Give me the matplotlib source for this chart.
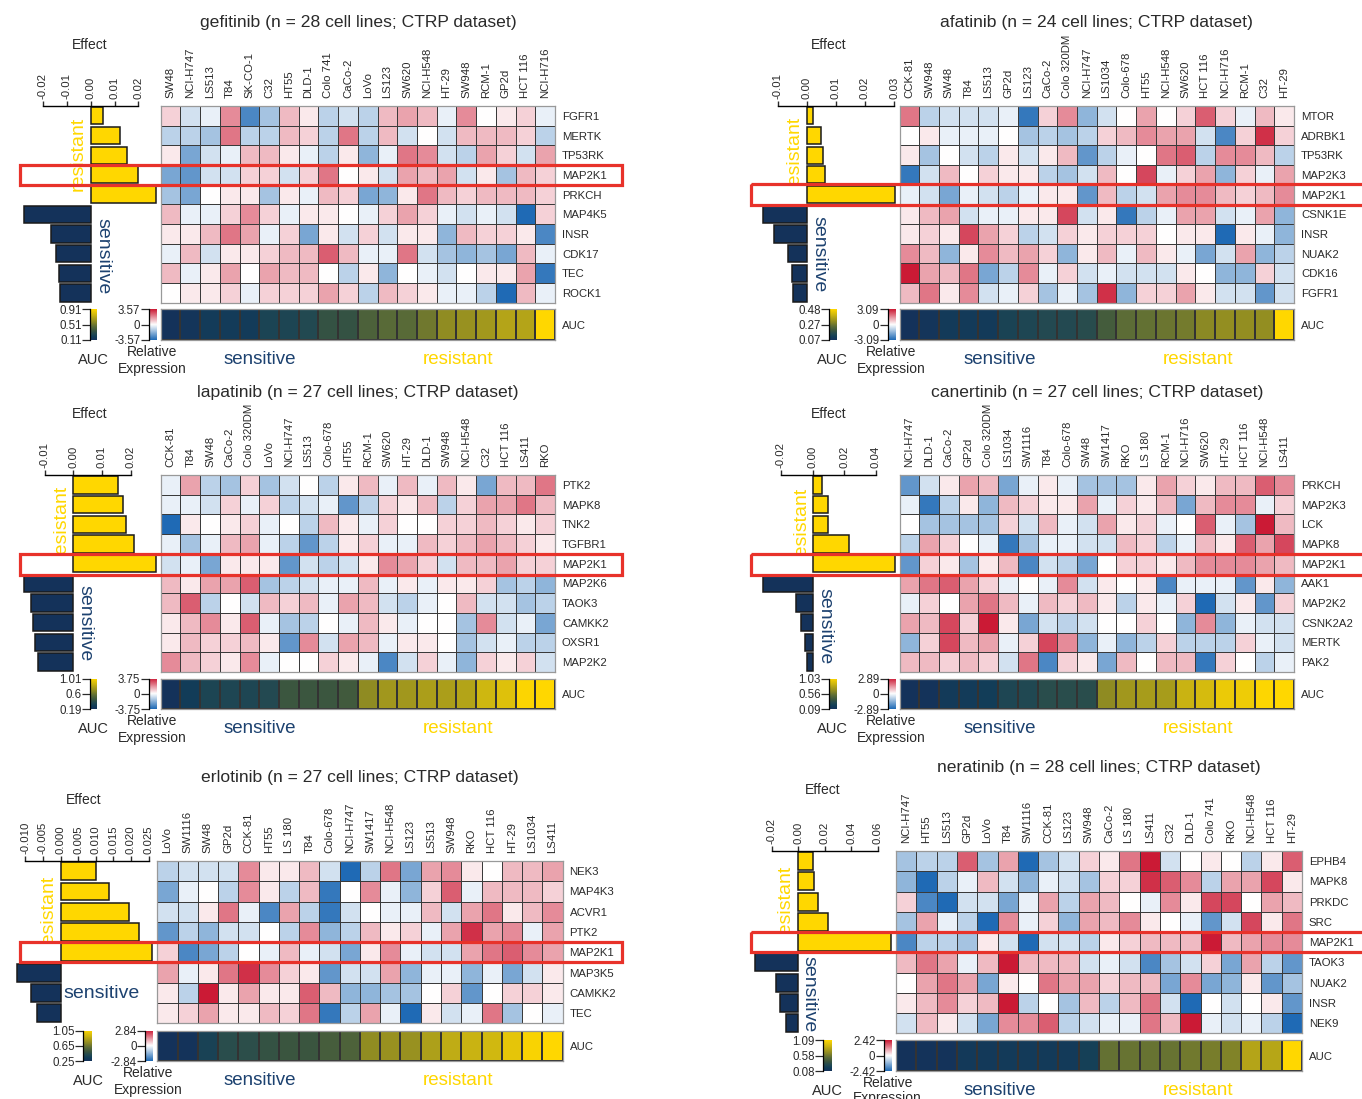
import numpy as np
import matplotlib
matplotlib.use('Agg')
import matplotlib.pyplot as plt
from matplotlib.colors import LinearSegmentedColormap
from matplotlib.patches import Rectangle

plt.rcParams['font.family'] = ['Liberation Sans', 'DejaVu Sans']

W, H = 1362, 1099
NAVY = '#14325A'
TEXT_NAVY = '#1D4270'
GOLD = '#FFD700'
RED = '#E8322A'
INK = '#2A2A2A'

gefitinib_lines = ['SW48', 'NCI-H747', 'LS513', 'T84', 'SK-CO-1', 'C32', 'HT55', 'DLD-1', 'Colo 741', 'CaCo-2',
                   'LoVo', 'LS123', 'SW620', 'NCI-H548', 'HT-29', 'SW948', 'RCM-1', 'GP2d', 'HCT 116', 'NCI-H716']
gefitinib_genes = ['FGFR1', 'MERTK', 'TP53RK', 'MAP2K1', 'PRKCH', 'MAP4K5', 'INSR', 'CDK17', 'TEC', 'ROCK1']
gefitinib_effect = [0.0053, 0.0122, 0.0152, 0.0197, 0.0272, -0.028, -0.0168, -0.0144, -0.0133, -0.0127]
gefitinib_auc = [0.11, 0.13, 0.17, 0.17, 0.17, 0.23, 0.24, 0.26, 0.33, 0.33,
                 0.41, 0.45, 0.45, 0.51, 0.59, 0.61, 0.64, 0.69, 0.69, 0.91]
gefitinib_expr = [
    [2, -2, -1, 5, -8, -4, 3, 1, -3, -2, -3, 3, 4, 3, -1, 5, 0, 1, 2, -1],
    [-3, -3, -4, 6, -3, -3, 3, 2, -3, 6, -3, 3, -2, 0, -2, 3, 3, 3, 2, -3],
    [1, -6, -2, -1, 3, 3, 1, -1, -3, 1, -5, -1, 6, 5, -2, -3, 4, 2, -2, 4],
    [-6, -7, -2, -2, 2, 2, -2, 2, 6, 0, 1, -2, 4, 3, 4, -2, 1, -4, 3, 2],
    [-4, -6, 0, 1, 1, -4, 1, -1, 3, 2, -6, -5, 1, 6, 3, 2, 3, 3, 3, 2],
    [3, -1, -1, 2, 5, 2, -1, 1, 1, 0, -1, 2, 4, 2, -1, -2, -1, -2, -10, 2],
    [1, 1, 3, 6, 4, -1, 2, -6, 1, -2, 2, -2, 1, 1, -5, 3, 2, 2, 1, -8],
    [-1, 3, -2, 1, 1, 2, 3, 3, 7, 3, -1, -1, 6, -2, -4, -5, -4, -6, 3, -1],
    [3, -1, 1, 4, 0, 4, 3, 3, 0, -3, 1, -5, 0, -1, -2, 0, 1, 1, 4, -9],
    [0, 1, 1, 2, -1, 2, 2, 2, 4, 2, -3, 3, 2, 1, -1, -1, -3, -10, 3, -1],
]

afatinib_lines = ['CCK-81', 'SW948', 'SW48', 'T84', 'LS513', 'GP2d', 'LS123', 'CaCo-2', 'Colo 320DM', 'NCI-H747',
                  'LS1034', 'Colo-678', 'HT55', 'NCI-H548', 'SW620', 'HCT 116', 'NCI-H716', 'RCM-1', 'C32', 'HT-29']
afatinib_genes = ['MTOR', 'ADRBK1', 'TP53RK', 'MAP2K3', 'MAP2K1', 'CSNK1E', 'INSR', 'NUAK2', 'CDK16', 'FGFR1']
afatinib_effect = [0.0023, 0.0048, 0.0056, 0.0064, 0.0303, -0.0151, -0.0113, -0.0064, -0.005, -0.0046]
afatinib_auc = [0.07, 0.08, 0.10, 0.10, 0.10, 0.13, 0.14, 0.15, 0.15, 0.16,
                0.21, 0.25, 0.26, 0.27, 0.28, 0.31, 0.32, 0.32, 0.32, 0.48]
afatinib_expr = [
    [6, -3, -2, -2, -2, -1, -9, 2, 5, -5, -2, 0, 4, 0, 2, 7, 2, -1, 3, 1],
    [0, 1, -1, -1, -1, 0, -4, -3, -4, -3, 2, 3, 5, 4, 4, -2, -8, 2, 9, 2],
    [1, -4, 0, -2, -3, 1, -2, 1, 3, -7, -3, -1, 0, 6, 7, -3, 5, 5, 3, -3],
    [-9, -2, 3, 0, 2, 1, 1, -3, -4, -2, 3, 0, 8, -1, 2, 4, -5, 2, -1, 4],
    [-1, -2, -6, -1, -2, -3, -1, 1, 1, -7, 3, -3, -2, 4, 5, 5, 3, 2, 3, 5],
    [1, 3, 4, -2, -1, -1, 1, 1, 8, -2, 1, -9, -3, -1, 4, 4, -2, -1, 4, -5],
    [1, 2, 1, 8, 4, 2, -3, -2, 2, 1, 2, 2, 2, 0, 1, 1, -10, 1, -1, -5],
    [5, 3, -5, 1, 5, 3, 4, 2, -5, 1, 3, -1, 3, 1, -1, -6, -2, 4, -5, -3],
    [10, 4, 3, 6, -6, -3, 5, -1, 2, -2, -1, -2, -2, -2, 1, 0, -5, -5, 2, -2],
    [3, 6, 1, 5, -2, -1, 2, -4, -1, -4, 9, -5, 2, 2, 4, 1, -2, -2, -7, -2],
]

lapatinib_lines = ['CCK-81', 'T84', 'SW48', 'CaCo-2', 'Colo 320DM', 'LoVo', 'NCI-H747', 'LS513', 'Colo-678', 'HT55',
                   'RCM-1', 'SW620', 'HT-29', 'DLD-1', 'SW948', 'NCI-H548', 'C32', 'HCT 116', 'LS411', 'RKO']
lapatinib_genes = ['PTK2', 'MAPK8', 'TNK2', 'TGFBR1', 'MAP2K1', 'MAP2K6', 'TAOK3', 'CAMKK2', 'OXSR1', 'MAP2K2']
lapatinib_effect = [0.0155, 0.0172, 0.0183, 0.0211, 0.0288, -0.0172, -0.0149, -0.0143, -0.0133, -0.0124]
lapatinib_auc = [0.19, 0.26, 0.32, 0.33, 0.33, 0.35, 0.44, 0.44, 0.44, 0.46,
                 0.68, 0.73, 0.73, 0.76, 0.76, 0.78, 0.86, 0.91, 1.0, 1.01]
lapatinib_expr = [
    [-1, 4, -3, -4, 2, -4, -2, 0, -3, 1, 3, -1, 3, -1, 3, 1, -6, 3, 3, 6],
    [-1, -1, -2, 2, -1, 2, -3, -2, -1, -7, -3, 2, 1, 3, -3, 2, 4, 4, 6, 3],
    [-10, 1, 0, 1, 2, -1, 0, -3, 3, 1, -1, 2, 0, 0, 2, 2, 3, 2, 1, 2],
    [-1, -4, -1, 3, 4, -1, -3, -7, -3, 1, 2, -1, -1, 3, 2, 3, 4, 3, 2, 1],
    [-2, -1, -6, 1, 1, 1, -7, -2, -3, -2, 1, 5, 4, 2, -2, 3, 3, 4, 2, 2],
    [3, 1, 4, 4, 7, -4, -3, -2, -1, -1, 3, -1, 1, -1, 1, 1, 2, -4, -3, -5],
    [3, 7, -3, 0, -2, 3, 2, 3, -1, 4, 3, -2, -3, -1, 0, 3, -2, -2, -4, -3],
    [1, 3, 5, 1, 7, -1, -4, -3, 0, -1, 3, 1, -1, 0, 0, -4, 5, -2, -1, -6],
    [1, 3, 2, 2, 3, 1, -7, 5, -2, 4, 3, -1, 1, 1, 0, -4, -2, -1, -3, -3],
    [5, 3, 2, 1, 5, -1, 0, 0, 2, 1, -1, -8, -2, 2, -1, -5, 2, 1, 2, -2],
]

canertinib_lines = ['NCI-H747', 'DLD-1', 'CaCo-2', 'GP2d', 'Colo 320DM', 'LS1034', 'SW1116', 'T84', 'Colo-678', 'SW48',
                    'SW1417', 'RKO', 'LS 180', 'RCM-1', 'NCI-H716', 'SW620', 'HT-29', 'HCT 116', 'NCI-H548', 'LS411']
canertinib_genes = ['PRKCH', 'MAP2K3', 'LCK', 'MAPK8', 'MAP2K1', 'AAK1', 'MAP2K2', 'CSNK2A2', 'MERTK', 'PAK2']
canertinib_effect = [0.006, 0.0095, 0.0098, 0.0231, 0.0522, -0.0314, -0.0103, -0.0073, -0.005, -0.0033]
canertinib_auc = [0.09, 0.10, 0.15, 0.16, 0.18, 0.25, 0.26, 0.30, 0.30, 0.30,
                  0.65, 0.71, 0.73, 0.73, 0.84, 0.88, 0.96, 0.97, 1.02, 1.03]
canertinib_expr = [
    [-7, -2, 1, 4, 3, -6, -1, 1, -1, -4, -4, -4, 1, 4, 2, 1, 3, 3, 7, 5],
    [-1, -9, -3, 1, -5, 3, 2, 1, 1, 4, -1, 2, 1, 3, -6, 3, 5, 5, -1, 2],
    [0, -4, -4, -4, -4, 2, -2, 3, -1, -2, 4, 1, 2, -1, 0, 7, -1, -4, 10, 3],
    [-3, 4, 2, 0, -1, -9, -4, -1, -1, -2, -2, 3, 2, -3, -1, 3, 1, 7, 4, 8],
    [-7, 2, 1, -4, 1, 3, -8, -2, -3, -6, 0, 2, 2, 1, 3, 5, 5, 5, 4, 3],
    [4, 6, 7, 4, 2, -1, 0, -1, 5, -2, 1, 0, 1, -8, -1, -1, -1, -7, 1, -5],
    [-1, 2, 0, 4, 6, 3, -1, 3, 2, 3, 1, -3, 1, -1, 2, -10, -2, 1, -7, 2],
    [4, 3, 8, 2, 10, 1, -6, -2, -3, -2, 0, 0, 2, 0, -5, 5, -5, -1, -2, -2],
    [-5, 2, 8, 3, 4, -1, 2, 8, 5, -5, -1, -5, -3, 2, -3, -3, -3, 2, -1, -2],
    [3, 3, 2, 3, 2, -2, 6, -8, 2, 1, -6, 3, 0, 3, 3, -9, 2, 0, -3, -1],
]

erlotinib_lines = ['LoVo', 'SW1116', 'SW48', 'GP2d', 'CCK-81', 'HT55', 'LS 180', 'T84', 'Colo-678', 'NCI-H747',
                   'SW1417', 'NCI-H548', 'LS123', 'LS513', 'SW948', 'RKO', 'HCT 116', 'HT-29', 'LS1034', 'LS411']
erlotinib_genes = ['NEK3', 'MAP4K3', 'ACVR1', 'PTK2', 'MAP2K1', 'MAP3K5', 'CAMKK2', 'TEC']
erlotinib_effect = [0.01, 0.0137, 0.0196, 0.0222, 0.0261, -0.0125, -0.0085, -0.0066]
erlotinib_auc = [0.25, 0.26, 0.36, 0.43, 0.44, 0.47, 0.49, 0.49, 0.53, 0.55,
                 0.73, 0.75, 0.75, 0.81, 0.86, 0.89, 0.91, 0.97, 1.03, 1.05]
erlotinib_expr = [
    [-3, -2, -2, -2, 5, 1, 1, 3, -2, -10, -3, 6, -6, 4, 5, 1, 0, 3, 3, 4],
    [-6, -1, 0, -3, 5, 1, -3, 3, -9, 0, 5, -1, -5, 2, 7, -1, 3, 3, 3, 2],
    [-2, -2, 1, 6, -1, -8, 4, -3, -9, -2, 0, -1, -1, 3, -2, 4, 6, 1, 3, 5],
    [-7, -3, -5, -2, -2, 0, -3, 5, -5, -3, 3, 1, 2, -1, 4, 9, 4, 5, -1, 4],
    [2, -8, -6, -3, 0, -1, 3, -1, -2, -6, 1, 5, -1, -2, -2, 4, 6, 7, 5, 4],
    [4, -1, 1, 6, 9, 5, 2, 1, -7, -2, -2, 4, -5, -1, -1, -5, -1, -6, -2, 1],
    [1, -3, 10, 1, 4, 1, 1, 7, 3, -5, -5, -4, -4, 0, 2, -7, 0, 2, 2, 1],
    [1, 2, 4, 1, 1, 3, 2, 6, -9, -3, 4, -1, -10, 1, -2, -1, 6, -4, 0, -1],
]

neratinib_lines = ['NCI-H747', 'HT55', 'LS513', 'GP2d', 'LoVo', 'T84', 'SW1116', 'CCK-81', 'LS123', 'SW948',
                   'CaCo-2', 'LS 180', 'LS411', 'C32', 'DLD-1', 'Colo 741', 'RKO', 'NCI-H548', 'HCT 116', 'HT-29']
neratinib_genes = ['EPHB4', 'MAPK8', 'PRKDC', 'SRC', 'MAP2K1', 'TAOK3', 'NUAK2', 'INSR', 'NEK9']
neratinib_effect = [0.0108, 0.0117, 0.0153, 0.0222, 0.0704, -0.0327, -0.0171, -0.0135, -0.009]
neratinib_auc = [0.08, 0.09, 0.09, 0.14, 0.14, 0.15, 0.15, 0.15, 0.15, 0.20,
                 0.55, 0.56, 0.56, 0.56, 0.59, 0.61, 0.64, 0.81, 0.82, 1.09]
neratinib_expr = [
    [-4, -3, -3, 7, -4, 4, -10, -4, -2, 2, 1, 6, 10, -2, 0, 1, 0, -3, 1, 7],
    [-5, -10, -3, -1, 3, -2, -5, -1, -2, -4, 2, 2, 9, 7, 5, -3, 4, 4, 8, 1],
    [2, -8, -10, -2, -2, -6, -1, 4, -3, 4, 3, 0, -1, 5, 1, 8, 8, 0, 4, 3],
    [-4, 4, -1, -3, -10, 5, -1, 2, -5, 4, 3, 5, 1, 0, -1, -7, -2, 8, 1, 6],
    [-8, -3, -3, -4, 1, -2, -10, -2, -2, -3, 1, 2, 3, 3, 3, 10, 3, 4, 5, 5],
    [3, 6, 4, -1, 3, 10, 3, 3, 3, -2, -1, -2, -8, -4, -2, 2, -6, 4, -3, -7],
    [0, 4, 6, 4, -6, 1, 0, 6, 4, 4, 2, 3, 3, -6, 5, -6, -5, 1, -7, -4],
    [1, 3, 5, 2, 3, 10, -3, 0, -4, 3, -3, 3, 6, -2, -10, 0, -2, 0, 1, -7],
    [-2, 3, 1, -2, -6, 5, 5, 7, -3, -2, -1, -1, 6, 3, 10, -1, -2, -1, -3, -10],
]

# one entry per panel; everything in here is layout in image pixels, y downward
panels = [
    dict(title='gefitinib (n = 28 cell lines; CTRP dataset)', lines=gefitinib_lines, genes=gefitinib_genes,
         effect=gefitinib_effect, auc=gefitinib_auc, expr=gefitinib_expr,
         ticks=[-0.02, -0.01, 0.0, 0.01, 0.02], fmt='%.2f', elim=3.57, alab=['0.91', '0.51', '0.11'],
         heat=(160.7, 555, 106, 302.7), strip=(309.5, 340), axis=(42.9, 138.5), title_xy=(358, 22),
         effect_xy=(90, 44), res_xy=(78, 154), sen_xy=(102.6, 256), sen_rot=270, cb_auc=(90, 97), cb_expr=(148.5, 156),
         auc_xy=(93, 359), rel_xy=(152, 351), exp_y=368, bottom_xy=(260, 458, 358), box=(20, 622, 164.5, 185), res_top=True),
    dict(title='afatinib (n = 24 cell lines; CTRP dataset)', lines=afatinib_lines, genes=afatinib_genes,
         effect=afatinib_effect, auc=afatinib_auc, expr=afatinib_expr,
         ticks=[-0.01, 0.0, 0.01, 0.02, 0.03], fmt='%.2f', elim=3.09, alab=['0.48', '0.27', '0.07'],
         heat=(899.5, 1294, 106, 302.7), strip=(309.5, 340), axis=(777.7, 894), title_xy=(1097, 22),
         effect_xy=(829, 44), res_xy=(794, 153), sen_xy=(819, 254.5), sen_rot=270, cb_auc=(829, 836.4), cb_expr=(887.6, 895.6),
         auc_xy=(832, 359), rel_xy=(891, 351), exp_y=368, bottom_xy=(1000, 1198, 358), box=(750.7, 1366, 184, 205), res_top=False),
    dict(title='lapatinib (n = 27 cell lines; CTRP dataset)', lines=lapatinib_lines, genes=lapatinib_genes,
         effect=lapatinib_effect, auc=lapatinib_auc, expr=lapatinib_expr,
         ticks=[-0.01, 0.0, 0.01, 0.02], fmt='%.2f', elim=3.75, alab=['1.01', '0.6', '0.19'],
         heat=(160.7, 555, 475, 672), strip=(678.7, 709), axis=(44.8, 130.5), title_xy=(358, 391),
         effect_xy=(90, 413), res_xy=(61, 521.7), sen_xy=(84.6, 622.7), sen_rot=270, cb_auc=(90, 97), cb_expr=(148.5, 156),
         auc_xy=(93, 728), rel_xy=(152, 720), exp_y=737, bottom_xy=(260, 458, 727), box=(20, 622, 553.7, 574.7), res_top=False),
    dict(title='canertinib (n = 27 cell lines; CTRP dataset)', lines=canertinib_lines, genes=canertinib_genes,
         effect=canertinib_effect, auc=canertinib_auc, expr=canertinib_expr,
         ticks=[-0.02, 0.0, 0.02, 0.04], fmt='%.2f', elim=2.89, alab=['1.03', '0.56', '0.09'],
         heat=(899.5, 1294, 475, 672), strip=(678.7, 709), axis=(780.9, 875.7), title_xy=(1097, 391),
         effect_xy=(829, 413), res_xy=(801.5, 524), sen_xy=(824.5, 625.7), sen_rot=270, cb_auc=(829, 836.4), cb_expr=(887.6, 895.6),
         auc_xy=(832, 728), rel_xy=(891, 720), exp_y=737, bottom_xy=(1000, 1198, 727), box=(750.7, 1366, 553.7, 574.7), res_top=False),
    dict(title='erlotinib (n = 27 cell lines; CTRP dataset)', lines=erlotinib_lines, genes=erlotinib_genes,
         effect=erlotinib_effect, auc=erlotinib_auc, expr=erlotinib_expr,
         ticks=[-0.01, -0.005, 0.0, 0.005, 0.01, 0.015, 0.02, 0.025], fmt='%.3f', elim=2.84, alab=['1.05', '0.65', '0.25'],
         heat=(157.3, 562.6, 861, 1023.3), strip=(1030.7, 1061), axis=(25.3, 148.5), title_xy=(360, 776.7),
         effect_xy=(84, 799), res_xy=(48, 911.7), sen_xy=(101.4, 993), sen_rot=0, cb_auc=(83.4, 91.8), cb_expr=(145.4, 152.7),
         auc_xy=(88, 1080), rel_xy=(148.5, 1072), exp_y=1089, bottom_xy=(260, 458, 1079), box=(20, 622, 942, 962), res_top=False),
    dict(title='neratinib (n = 28 cell lines; CTRP dataset)', lines=neratinib_lines, genes=neratinib_genes,
         effect=neratinib_effect, auc=neratinib_auc, expr=neratinib_expr,
         ticks=[-0.02, 0.0, 0.02, 0.04, 0.06], fmt='%.2f', elim=2.42, alab=['1.09', '0.58', '0.08'],
         heat=(896, 1302, 851, 1033.3), strip=(1040.3, 1071), axis=(771.7, 877.7), title_xy=(1099, 766.7),
         effect_xy=(823, 789), res_xy=(785.6, 901.7), sen_xy=(809.4, 993.8), sen_rot=270, cb_auc=(823, 831), cb_expr=(883.7, 891.6),
         auc_xy=(827, 1090), rel_xy=(887.6, 1082), exp_y=1097, bottom_xy=(1000, 1198, 1088.7), box=(750.7, 1366, 932, 952), res_top=False),
]

expr_cmap = LinearSegmentedColormap.from_list('expr', ['#1F6AB5', '#FFFFFF', '#CB1A35'])
auc_cmap = LinearSegmentedColormap.from_list('auc', [(0.0, NAVY), (0.1, '#123E58'), (0.2, '#244A50'), (0.3, '#3A553F'),
                                                     (0.45, '#5F6E35'), (0.6, '#908C22'), (0.8, '#C9B312'), (1.0, GOLD)])


def px_axes(fig, x0, x1, y0, y1, z=1):
    ax = fig.add_axes([x0 / W, 1 - y1 / H, (x1 - x0) / W, (y1 - y0) / H], zorder=z)
    ax.patch.set_alpha(0)
    return ax


def colour_key(fig, xr, yr, cmap, labels):
    ax = px_axes(fig, xr[0], xr[1], yr[0], yr[1])
    ax.imshow(np.linspace(1, 0, 64)[:, None], cmap=cmap, aspect='auto', extent=(0, 1, 0, 1))
    ax.set_xticks([])
    ax.set_yticks([1, 0.5, 0], labels)
    ax.tick_params(axis='y', length=5.5, width=0.9, pad=0.5, labelsize=8.3, colors=INK)
    for side in ['top', 'right', 'bottom']:
        ax.spines[side].set_visible(False)
    ax.spines['left'].set_linewidth(0.9)


def draw_panel(fig, under, over, p):
    hx0, hx1, hy0, hy1 = p['heat']
    sy0, sy1 = p['strip']
    expr = np.array(p['expr'], dtype=float) / 10 * p['elim']
    auc = np.array(p['auc'])[None, :]

    # heatmap
    ax = px_axes(fig, hx0, hx1, hy0, hy1)
    ax.pcolormesh(expr, cmap=expr_cmap, vmin=-p['elim'], vmax=p['elim'], edgecolors='#3A3A3A', linewidth=0.45)
    ax.set_ylim(len(p['genes']), 0)
    ax.xaxis.tick_top()
    ax.set_xticks(np.arange(len(p['lines'])) + 0.5, p['lines'], rotation=90)
    ax.yaxis.tick_right()
    ax.set_yticks(np.arange(len(p['genes'])) + 0.5, p['genes'])
    ax.tick_params(length=0, labelsize=8.2, colors=INK)
    ax.tick_params(axis='x', pad=5.5)
    ax.tick_params(axis='y', pad=5)
    for s in ax.spines.values():
        s.set_color('#999999')
        s.set_linewidth(0.9)

    # AUC strip
    ax = px_axes(fig, hx0, hx1, sy0, sy1)
    ax.pcolormesh(auc, cmap=auc_cmap, edgecolors='#333333', linewidth=0.35)
    ax.set_xticks([])
    ax.yaxis.tick_right()
    ax.set_yticks([0.5], ['AUC'])
    ax.tick_params(length=0, labelsize=8.2, pad=5, colors=INK)
    for s in ax.spines.values():
        s.set_color('#999999')
        s.set_linewidth(0.9)

    # effect bars
    ticks = p['ticks']
    ax = px_axes(fig, p['axis'][0], p['axis'][1], hy0, hy1, z=1.5)
    n = len(p['effect'])
    effect = np.array(p['effect'])
    colours = [GOLD if v > 0 else NAVY for v in effect]
    ax.barh(np.arange(n) + 0.5, effect, height=0.88, color=colours, edgecolor='#1A1A1A', linewidth=1.1, clip_on=False)
    ax.set_xlim(ticks[0], ticks[-1])
    ax.set_ylim(n, 0)
    ax.xaxis.tick_top()
    ax.set_xticks(ticks, [p['fmt'] % t for t in ticks], rotation=90)
    ax.set_yticks([])
    ax.tick_params(axis='x', length=3.5, width=1.0, pad=1.5, labelsize=8.2, colors=INK)
    for side in ['left', 'right', 'bottom']:
        ax.spines[side].set_visible(False)
    ax.spines['top'].set_linewidth(1.0)

    # keys
    colour_key(fig, p['cb_auc'], p['strip'], auc_cmap, p['alab'])
    colour_key(fig, p['cb_expr'], p['strip'], expr_cmap, ['%.2f' % p['elim'], '0', '%.2f' % -p['elim']])

    # text and red box
    base_px = np.interp(0.0, [ticks[0], ticks[-1]], p['axis'])
    bx0, bx1, by0, by1 = p['box']
    under.add_patch(Rectangle((bx0, by0), base_px - bx0, by1 - by0, facecolor='white', edgecolor='none', zorder=1))
    over.add_patch(Rectangle((bx0, by0), bx1 - bx0, by1 - by0, fill=False, edgecolor=RED, linewidth=2.3))

    tx, ty = p['title_xy']
    under.text(tx, ty + 1, p['title'], ha='center', va='center', fontsize=12.6, color=INK)
    under.text(p['effect_xy'][0], p['effect_xy'][1] + 1, 'Effect', ha='center', va='center', fontsize=10, color=INK)
    under.text(*p['res_xy'], 'resistant', rotation=90, ha='center', va='center', fontsize=14, color=GOLD,
               zorder=2 if p['res_top'] else 0.5)
    under.text(*p['sen_xy'], 'sensitive', rotation=p['sen_rot'], ha='center', va='center', fontsize=14, color=TEXT_NAVY)
    under.text(p['auc_xy'][0], p['auc_xy'][1] + 1, 'AUC', ha='center', va='center', fontsize=10.5, color=INK)
    under.text(p['rel_xy'][0], p['rel_xy'][1] + 1, 'Relative', ha='center', va='center', fontsize=10, color=INK)
    under.text(p['rel_xy'][0], p['exp_y'] + 1, 'Expression', ha='center', va='center', fontsize=10, color=INK)
    sx, rx, by = p['bottom_xy']
    under.text(sx, by + 1.5, 'sensitive', ha='center', va='center', fontsize=13.5, color=TEXT_NAVY)
    under.text(rx, by + 1.5, 'resistant', ha='center', va='center', fontsize=13.5, color=GOLD)


def main():
    fig = plt.figure(figsize=(W / 100, H / 100), dpi=100)
    under = fig.add_axes([0, 0, 1, 1], zorder=0)
    over = fig.add_axes([0, 0, 1, 1], zorder=3)
    for ax in (under, over):
        ax.set_xlim(0, W)
        ax.set_ylim(H, 0)
        ax.axis('off')
    for p in panels:
        draw_panel(fig, under, over, p)
    fig.savefig('out.png', dpi=100)


if __name__ == "__main__":
    main()
